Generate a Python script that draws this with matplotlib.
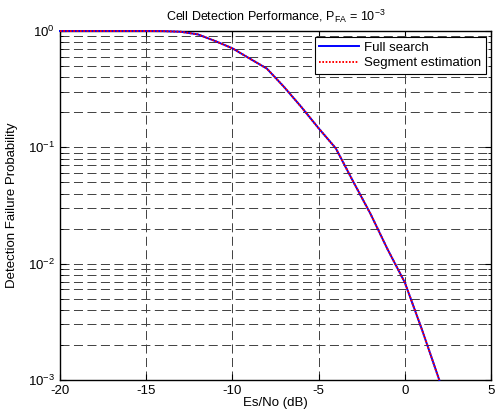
import matplotlib
matplotlib.use('Agg')
import matplotlib.pyplot as plt
from matplotlib.ticker import LogLocator, NullFormatter, MultipleLocator

plt.rcParams['font.family'] = ['Liberation Sans', 'DejaVu Sans']
plt.rcParams['mathtext.default'] = 'regular'
plt.rcParams['axes.unicode_minus'] = False
plt.rcParams['lines.scale_dashes'] = False

# Es/No (dB) and detection failure probability
esNo = [-20, -19, -18, -17, -16, -15, -14, -13, -12, -11, -10, -9, -8, -7, -6,
        -5, -4, -3, -2, -1, 0, 1, 2]
fullSearch = [1.0, 1.0, 1.0, 1.0, 1.0, 1.0, 0.998, 0.985, 0.935, 0.82, 0.71,
              0.58, 0.475, 0.33, 0.222, 0.146, 0.098, 0.051, 0.027, 0.0133,
              0.0069, 0.0027, 0.001]
segmentEstimation = list(fullSearch)

seriesNames = ['Full search', 'Segment estimation']

fig = plt.figure(figsize=(5.01, 4.12), dpi=100)
ax = fig.add_axes([60 / 501, 1 - 380 / 412, 431 / 501, 349 / 412])

ax.semilogy(esNo, fullSearch, color='#0000ff', linewidth=1.4, label=seriesNames[0],
            clip_on=False, zorder=5)
ax.semilogy(esNo, segmentEstimation, color='#ff0000', linewidth=1.4,
            linestyle=(0, (1.2, 1.2)), label=seriesNames[1], clip_on=False, zorder=6)

ax.set_xlim(-20, 5)
ax.set_ylim(1e-3, 1)
ax.xaxis.set_major_locator(MultipleLocator(5))
ax.yaxis.set_major_locator(LogLocator(base=10, numticks=10))
ax.yaxis.set_minor_locator(LogLocator(base=10, subs=range(2, 10), numticks=10))
ax.yaxis.set_minor_formatter(NullFormatter())

gridStyle = dict(color='0.25', linewidth=0.7, linestyle=(0, (6.5, 3.2)))
ax.grid(True, which='major', axis='both', **gridStyle)
ax.grid(True, which='minor', axis='y', **gridStyle)

ax.tick_params(which='both', direction='in', top=True, right=True, labelsize=9.5)
ax.tick_params(which='major', length=4, width=0.8)
ax.tick_params(which='minor', length=2.5, width=0.6)
for spine in ax.spines.values():
    spine.set_linewidth(1.0)

ax.set_title('Cell Detection Performance, P$_{FA}$ = 10$^{-3}$', fontsize=9, pad=7)
ax.set_xlabel('Es/No (dB)', fontsize=9.5, labelpad=0)
ax.set_ylabel('Detection Failure Probability', fontsize=9.5, labelpad=7)

legend = ax.legend(loc='upper right', bbox_to_anchor=(0.988, 0.983), borderaxespad=0,
                   fontsize=9.5, fancybox=False, framealpha=1, edgecolor='k',
                   handlelength=3.0, handletextpad=0.4, labelspacing=0.25,
                   borderpad=0.35)
legend.get_frame().set_linewidth(0.8)
legend.set_zorder(10)

fig.savefig('out.png', dpi=100)
